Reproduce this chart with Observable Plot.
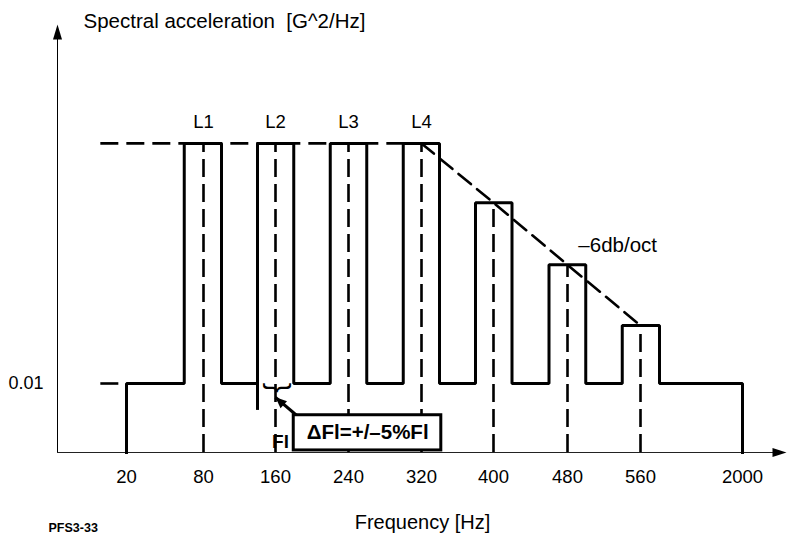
<!DOCTYPE html>
<html><head><meta charset="utf-8">
<script src="https://cdn.jsdelivr.net/npm/d3@7"></script>
<script src="https://cdn.jsdelivr.net/npm/@observablehq/plot@0.6"></script>
<style>body{margin:0;background:#fff} svg{display:block}</style>
</head><body><div id="chart"></div>
<script>
// ---- data ----
const tickFreqs = [20, 80, 160, 240, 320, 400, 480, 560, 2000];
const tickLabels = ["20", "80", "160", "240", "320", "400", "480", "560", "2000"];
// schematic (non-uniform) frequency axis: anchor frequencies and their horizontal positions
const xAnchors = [20, 80, 160, 240, 320, 400, 480, 560, 580, 2000];
const xPixels  = [126, 203, 275, 348, 421, 493, 567, 640, 659, 742];

const peakCenter = [80, 160, 240, 320, 400, 480, 560];
const peakLow    = [65, 140, 220, 300, 380, 460, 540];
const peakHigh   = [100, 180, 260, 340, 420, 500, 580];
const peakLevel  = [0.0448, 0.0448, 0.0448, 0.0448, 0.0362, 0.0272, 0.0184];
const lineNames  = ["L1", "L2", "L3", "L4"];
const baseLevel = 0.01;
const bandStart = 20, bandEnd = 2000;
const topLevel = 0.0448;
const rollOffStart = 320;   // -6 dB/oct starts at L4
const markerFreq = 140, markerLow = 0.0061;   // -5% marker below L2
// annotation anchors (data units)
const braceAt = {f: 160, v: 0.0094};
const arrowTail = {f: 183, v: 0.0054}, arrowTip = {f: 160, v: 0.0080};
const noteBox = {f1: 180, f2: 342, v1: 0.0003, v2: 0.0054, f: 261, v: 0.0029};
const slopeNote = {f: 535, v: 0.0300};
const flNote = {f: 160, v: 0.0016};

// ---- build tables ----
const profile = [{f: bandStart, v: 0}, {f: bandStart, v: baseLevel}];
peakCenter.forEach((c, i) => {
  profile.push({f: peakLow[i], v: baseLevel}, {f: peakLow[i], v: peakLevel[i]},
               {f: peakHigh[i], v: peakLevel[i]}, {f: peakHigh[i], v: baseLevel});
});
profile.push({f: bandEnd, v: baseLevel}, {f: bandEnd, v: 0});
const peaks = peakCenter.map((c, i) => ({f: c, v: peakLevel[i]}));
const envelope = peaks.filter(d => d.f >= rollOffStart);
const ticks = tickFreqs.map((f, i) => ({f, label: tickLabels[i]}));
const named = lineNames.map((n, i) => ({f: peakCenter[i], v: peakLevel[i], n}));

const upArrow = {draw(ctx) { ctx.moveTo(0, -4); ctx.lineTo(4.5, 11); ctx.lineTo(-4.5, 11); ctx.closePath(); }};
const rightArrow = {draw(ctx) { ctx.moveTo(3, 0); ctx.lineTo(-11, 4.5); ctx.lineTo(-11, -4.5); ctx.closePath(); }};
const noteHead = {draw(ctx) { ctx.moveTo(0, 0); ctx.lineTo(11.5, 4); ctx.lineTo(5, 11); ctx.closePath(); }};

const font = "'Liberation Sans', Arial, Helvetica, sans-serif";
const ink = "#000";

const chart = Plot.plot({
  width: 787, height: 539,
  marginLeft: 57, marginRight: 4, marginTop: 28, marginBottom: 87,
  style: {fontFamily: font, fontSize: "18px", color: ink, background: "#fff"},
  x: {type: "linear", domain: xAnchors, range: xPixels, axis: null},
  y: {domain: [0, 0.06145], ticks: [baseLevel], tickFormat: d => String(d), tickSize: 0, tickPadding: 14, line: true, label: null},
  marks: [
    // x axis line + arrowheads
    Plot.ruleY([0], {stroke: "#222", strokeWidth: 1}),
    Plot.dot([0], {frameAnchor: "top-left", symbol: upArrow, fill: ink, stroke: null}),
    Plot.dot([0], {frameAnchor: "bottom-right", symbol: rightArrow, fill: ink, stroke: null}),
    // dashed reference lines
    Plot.ruleY([topLevel], {x2: rollOffStart, stroke: ink, strokeWidth: 2.6, strokeDasharray: "18,8"}),
    Plot.ruleY([baseLevel], {x2: bandStart, stroke: ink, strokeWidth: 2.6, strokeDasharray: "18,8"}),
    Plot.line(envelope, {x: "f", y: "v", stroke: ink, strokeWidth: 2.6, strokeDasharray: "16,8"}),
    Plot.ruleX(peaks, {x: "f", y1: 0, y2: "v", stroke: ink, strokeWidth: 2.6, strokeDasharray: "18,7"}),
    // test profile
    Plot.line(profile, {x: "f", y: "v", stroke: ink, strokeWidth: 3, strokeLinejoin: "miter", strokeLinecap: "square"}),
    Plot.ruleX([markerFreq], {y1: markerLow, y2: baseLevel, stroke: ink, strokeWidth: 3}),
    // labels
    Plot.text(named, {x: "f", y: "v", text: "n", dy: -21, fontSize: 18.5}),
    Plot.text(ticks, {x: "f", text: "label", frameAnchor: "bottom", dy: 30, fontSize: 18.5}),
    Plot.text([slopeNote], {x: "f", y: "v", text: () => "–6db/oct", fontSize: 20.5}),
    Plot.text(["Spectral acceleration  [G^2/Hz]"], {frameAnchor: "top-left", textAnchor: "start", lineAnchor: "bottom", dx: 26, dy: -1, fontSize: 20.5}),
    Plot.text(["Frequency [Hz]"], {frameAnchor: "bottom", dx: 2, dy: 76, fontSize: 20}),
    Plot.text(["PFS3-33"], {frameAnchor: "bottom-left", textAnchor: "start", dx: -9, dy: 79, fontSize: 12.5, fontWeight: "bold"}),
    // ΔFl annotation
    Plot.text([braceAt], {x: "f", y: "v", text: () => "}", rotate: 90, dx: 3, fontSize: 30}),
    Plot.link([0], {x1: () => arrowTail.f, y1: () => arrowTail.v, x2: () => arrowTip.f, y2: () => arrowTip.v, stroke: ink, strokeWidth: 3}),
    Plot.dot([arrowTip], {x: "f", y: "v", symbol: noteHead, fill: ink, stroke: null}),
    Plot.rect([noteBox], {x1: "f1", x2: "f2", y1: "v1", y2: "v2", fill: "#fff", stroke: ink, strokeWidth: 3}),
    Plot.text([noteBox], {x: "f", y: "v", text: () => "ΔFl=+/–5%Fl", fontSize: 20.5, fontWeight: "bold"}),
    Plot.text([flNote], {x: "f", y: "v", text: () => "Fl", dx: 5, fontSize: 19, fontWeight: "bold"})
  ]
});
document.getElementById("chart").appendChild(chart);
</script>
</body></html>
